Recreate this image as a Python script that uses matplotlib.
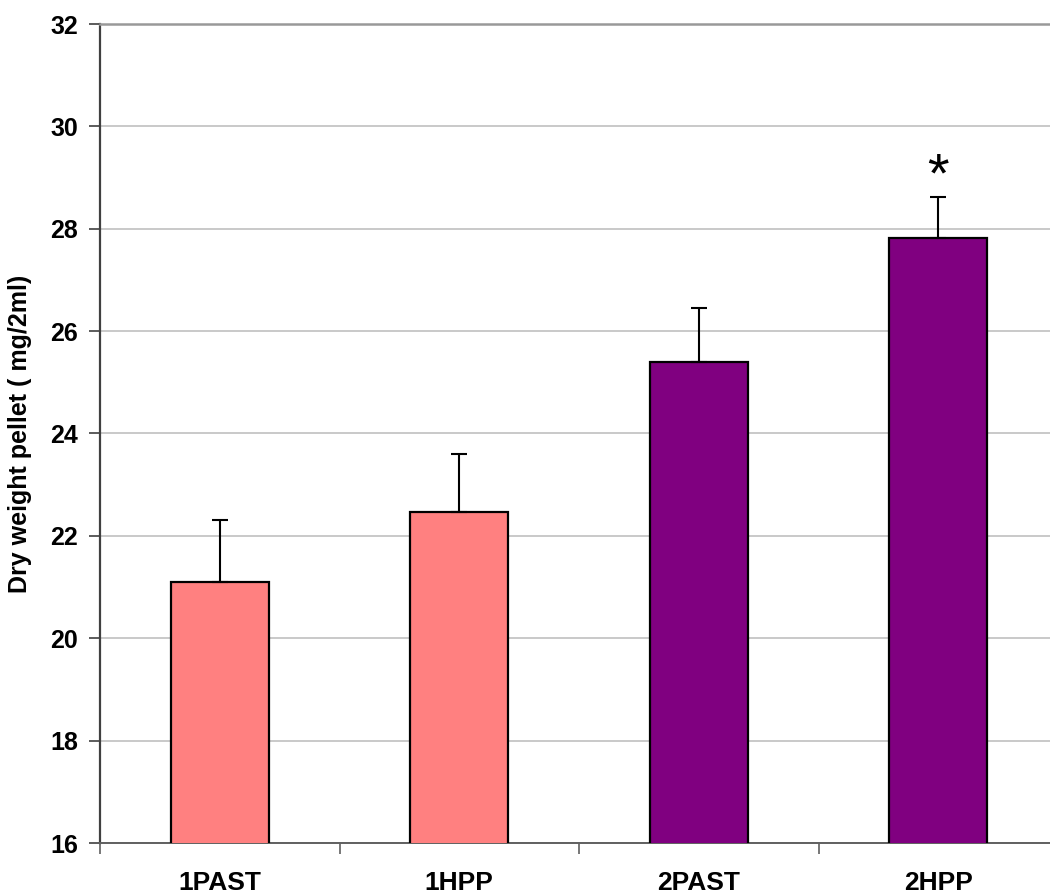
import numpy as np
import matplotlib
matplotlib.use('Agg')
import matplotlib.pyplot as plt

# dry weight of pellet per group, mean and upper error
groups = ['1PAST', '1HPP', '2PAST', '2HPP']
means = [21.10, 22.47, 25.40, 27.82]
errors = [1.21, 1.13, 1.05, 0.80]
bar_colors = ['#FF8080', '#FF8080', '#800080', '#800080']
star_group = 3
star_y = 29.0

plt.rcParams['font.family'] = ['Liberation Sans', 'DejaVu Sans']

fig = plt.figure(figsize=(10.5, 8.96), dpi=100)
ax = fig.add_axes([100 / 1050, 53 / 896, 958 / 1050, 819 / 896])

x = np.arange(len(groups))
ax.bar(x, means, width=0.41, color=bar_colors, edgecolor='black', linewidth=1.6,
       zorder=3)
ax.errorbar(x, means, yerr=[np.zeros(len(errors)), errors], fmt='none',
            ecolor='black', elinewidth=1.5, capsize=5.5, capthick=1.5, zorder=4)
ax.text(x[star_group], star_y, '*', ha='center', va='center', fontsize=40,
        color='black', zorder=5)

ax.set_ylim(16, 32)
ax.set_xlim(-0.5, 3.5)
ax.set_yticks(np.arange(16, 33, 2))
ax.yaxis.grid(True, color='#c0c0c0', linewidth=1.2, zorder=0)
ax.set_axisbelow(True)

# category labels between boundary ticks
ax.set_xticks(np.arange(-0.5, 4.0, 1.0))
ax.set_xticklabels([])
ax.set_xticks(x, minor=True)
ax.set_xticklabels(groups, minor=True, fontsize=19, fontweight='bold')
ax.tick_params(axis='x', which='minor', length=0, pad=20)
ax.tick_params(axis='x', which='major', length=8, width=1.2, color='#606060')
ax.tick_params(axis='y', length=8, width=1.2, color='#404040', pad=8,
               labelsize=18)
for lab in ax.get_yticklabels():
    lab.set_fontweight('bold')

ax.spines['left'].set_color('#404040')
ax.spines['left'].set_linewidth(1.6)
ax.spines['bottom'].set_color('#606060')
ax.spines['bottom'].set_linewidth(1.4)
ax.spines['top'].set_color('#999999')
ax.spines['top'].set_linewidth(1.8)
ax.spines['right'].set_visible(False)

ax.set_ylabel('Dry weight pellet ( mg/2ml)', fontsize=18, fontweight='bold',
              labelpad=13)

fig.savefig('out.png', dpi=100)
